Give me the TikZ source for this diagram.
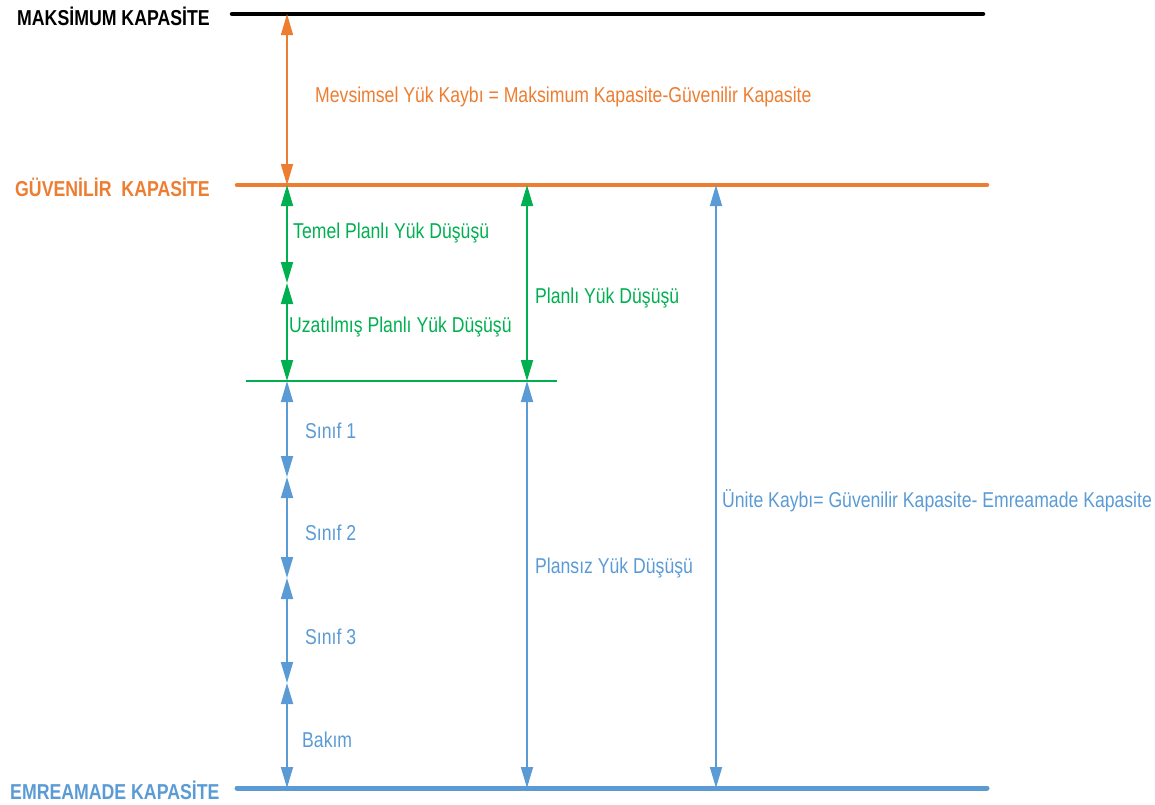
\documentclass[tikz,border=0pt]{standalone}
\usepackage{fontspec}
\setmainfont{Liberation Sans}[FakeStretch=0.82]
\usetikzlibrary{arrows.meta}
\definecolor{cOr}{HTML}{ED7D31}
\definecolor{cGr}{HTML}{00B050}
\definecolor{cBl}{HTML}{5B9BD5}
\begin{document}
\begin{tikzpicture}[x=1pt,y=-1pt,
  level/.style={line width=4.5pt,line cap=round},
  dim/.style={line width=1.8pt,>={Triangle[length=21pt,width=12pt]},<->},
  lbl/.style={anchor=west,inner sep=0pt,font=\fontsize{21.5}{24}\selectfont},
  head/.style={anchor=west,inner sep=0pt,font=\fontsize{21.6}{24}\selectfont\bfseries}]
\useasboundingbox (0,0) rectangle (1155,804);
% level lines
\coordinate (maxL) at (232,14); \coordinate (maxR) at (983,14);
\coordinate (guvL) at (237,185); \coordinate (guvR) at (987,185);
\coordinate (plL) at (246,381); \coordinate (plR) at (557,381);
\coordinate (emL) at (237,788); \coordinate (emR) at (987,788);
\draw[level,black] (maxL) -- (maxR);
\draw[level,cOr] (guvL) -- (guvR);
\draw[cGr,line width=2pt] (plL) -- (plR);
\draw[level,cBl,line width=5pt] (emL) -- (emR);
% headings
\node[head,text=black] (hmax) at (17,16) {MAKS\.{I}MUM KAPAS\.{I}TE};
\node[head,text=cOr] (hguv) at (15,187) {GÜVEN\.{I}L\.{I}R\ \ KAPAS\.{I}TE};
\node[head,text=cBl] (hem) at (10,790) {EMREAMADE KAPAS\.{I}TE};
% points
\coordinate (a0) at (287,14);
\coordinate (a1) at (287,185);
\coordinate (a2) at (287,283);
\coordinate (a3) at (287,381);
\coordinate (a4) at (287,477);
\coordinate (a5) at (287,578);
\coordinate (a6) at (287,683);
\coordinate (a7) at (287,788);
\coordinate (b1) at (527,185);
\coordinate (b3) at (527,381);
\coordinate (b7) at (527,788);
\coordinate (c1) at (716,185);
\coordinate (c7) at (716,788);
% arrows
\draw[dim,cOr,line width=1.5pt] (a0) -- (a1);
\draw[dim,cGr] (a1) -- (a2);
\draw[dim,cGr] (a2) -- (a3);
\draw[dim,cGr] (b1) -- (b3);
\draw[dim,cBl] (a3) -- (a4);
\draw[dim,cBl] (a4) -- (a5);
\draw[dim,cBl] (a5) -- (a6);
\draw[dim,cBl] (a6) -- (a7);
\draw[dim,cBl] (b3) -- (b7);
\draw[dim,cBl] (c1) -- (c7);
% labels
\node[lbl,text=cOr] (tm) at (315,97) {Mevsimsel Yük Kaybı = Maksimum Kapasite-Güvenilir Kapasite};
\node[lbl,text=cGr] (tt) at (293,233) {Temel Planlı Yük Düşüşü};
\node[lbl,text=cGr] (tu) at (289,327) {Uzatılmış Planlı Yük Düşüşü};
\node[lbl,text=cGr] (tp) at (535,298) {Planlı Yük Düşüşü};
\node[lbl,text=cBl] (s1) at (305,431) {Sınıf 1};
\node[lbl,text=cBl] (s2) at (305,533) {Sınıf 2};
\node[lbl,text=cBl] (s3) at (305,637) {Sınıf 3};
\node[lbl,text=cBl] (bk) at (302,740) {Bakım};
\node[lbl,text=cBl] (pz) at (535,568) {Plansız Yük Düşüşü};
\node[lbl,text=cBl] (un) at (722,501) {Ünite Kaybı= Güvenilir Kapasite- Emreamade Kapasite};
\end{tikzpicture}
\end{document}
